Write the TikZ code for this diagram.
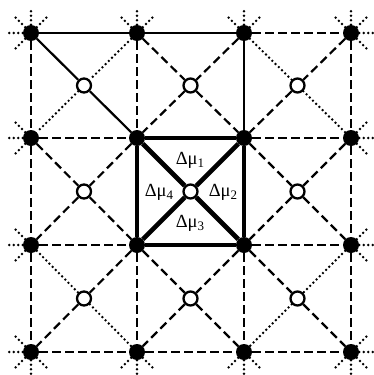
\documentclass[tikz,border=0pt]{standalone}
\usepackage{fontspec}
\setmainfont{Liberation Serif}
\newcommand\dmlab[1]{Δμ\raisebox{-0.45ex}{\fontsize{13}{13}\selectfont #1}}
\begin{document}
\begin{tikzpicture}[x=1pt,y=-1pt,
  bdot/.style={circle,fill=black,inner sep=0pt,minimum size=16pt},
  wdot/.style={circle,draw=black,fill=white,line width=2.3pt,inner sep=0pt,minimum size=14pt},
  solidl/.style={line width=2.2pt},
  thickl/.style={line width=4.6pt},
  dsh/.style={line width=2.2pt,dash pattern=on 8.5pt off 4.5pt},
  dotl/.style={line width=2.7pt,line cap=round,dash pattern=on 0pt off 4.5pt},
  lbl/.style={font=\fontsize{18.5}{20}\selectfont,inner sep=0pt}]
\useasboundingbox (0,0) rectangle (374,375);
\fill[white] (0,0) rectangle (374,375);
% nodes
\foreach \i/\x in {0/31,1/137,2/244,3/351}
  \foreach \j/\y in {0/33,1/138,2/245,3/352}
    \node[bdot] (b\i\j) at (\x,\y) {};
\foreach \i/\x in {0/84,1/190.5,2/297.5}
  \foreach \j/\y in {0/85.5,1/191.5,2/298.5}
    \coordinate (c\i\j) at (\x,\y);
% horizontal lines
\draw[solidl] (b00) -- (b10);
\draw[solidl] (b10) -- (b20);
\draw[dsh] (b20) -- (b30);
\draw[dsh] (b01) -- (b11);
\draw[thickl] (b11) -- (b21);
\draw[dsh] (b21) -- (b31);
\draw[dsh] (b02) -- (b12);
\draw[thickl] (b12) -- (b22);
\draw[dsh] (b22) -- (b32);
\draw[dsh] (b03) -- (b13);
\draw[dsh] (b13) -- (b23);
\draw[dsh] (b23) -- (b33);
% vertical lines
\draw[dsh] (b00) -- (b01);
\draw[dsh] (b01) -- (b02);
\draw[dsh] (b02) -- (b03);
\draw[dsh] (b10) -- (b11);
\draw[thickl] (b11) -- (b12);
\draw[dsh] (b12) -- (b13);
\draw[solidl] (b20) -- (b21);
\draw[thickl] (b21) -- (b22);
\draw[dsh] (b22) -- (b23);
\draw[dsh] (b30) -- (b31);
\draw[dsh] (b31) -- (b32);
\draw[dsh] (b32) -- (b33);
% open circles
\foreach \i in {0,1,2}
  \foreach \j in {0,1,2}
    \node[wdot] (w\i\j) at (c\i\j) {};
% diagonals: cell 00
\draw[solidl] (b00) -- (w00);
\draw[solidl] (w00) -- (b11);
\draw[dotl] (b10) -- (w00);
\draw[dotl] (w00) -- (b01);
% cell 10
\draw[dsh] (b10) -- (w10);
\draw[dsh] (w10) -- (b21);
\draw[dsh] (b20) -- (w10);
\draw[dsh] (w10) -- (b11);
% cell 20
\draw[dotl] (b20) -- (w20);
\draw[dotl] (w20) -- (b31);
\draw[dsh] (b30) -- (w20);
\draw[dsh] (w20) -- (b21);
% cell 01
\draw[dsh] (b01) -- (w01);
\draw[dsh] (w01) -- (b12);
\draw[dsh] (b11) -- (w01);
\draw[dsh] (w01) -- (b02);
% cell 11
\draw[thickl] (b11) -- (w11);
\draw[thickl] (w11) -- (b22);
\draw[thickl] (b21) -- (w11);
\draw[thickl] (w11) -- (b12);
% cell 21
\draw[dsh] (b21) -- (w21);
\draw[dsh] (w21) -- (b32);
\draw[dsh] (b31) -- (w21);
\draw[dsh] (w21) -- (b22);
% cell 02
\draw[dotl] (b02) -- (w02);
\draw[dotl] (w02) -- (b13);
\draw[dsh] (b12) -- (w02);
\draw[dsh] (w02) -- (b03);
% cell 12
\draw[dsh] (b12) -- (w12);
\draw[dsh] (w12) -- (b23);
\draw[dsh] (b22) -- (w12);
\draw[dsh] (w12) -- (b13);
% cell 22
\draw[dsh] (b22) -- (w22);
\draw[dsh] (w22) -- (b33);
\draw[dotl] (b32) -- (w22);
\draw[dotl] (w22) -- (b23);
% dotted rays on the border nodes
\foreach \n/\angs in {b00/{270,225,315,180,135}, b10/{270,225,315}, b20/{270,225,315},
    b30/{270,225,315,0,45}, b01/{180,225,135}, b02/{180,225,135},
    b31/{0,315,45}, b32/{0,315,45}, b03/{90,135,45,180,225},
    b13/{90,135,45}, b23/{90,135,45}, b33/{90,135,45,0,315}}
  \foreach \a in \angs
    \draw[dotl] (\n) -- +(\a:25);
% labels
\node[lbl] (l1) at (190,160) {\dmlab{1}};
\node[lbl] (l2) at (223,192) {\dmlab{2}};
\node[lbl] (l3) at (190,223) {\dmlab{3}};
\node[lbl] (l4) at (159,192) {\dmlab{4}};
\end{tikzpicture}
\end{document}
